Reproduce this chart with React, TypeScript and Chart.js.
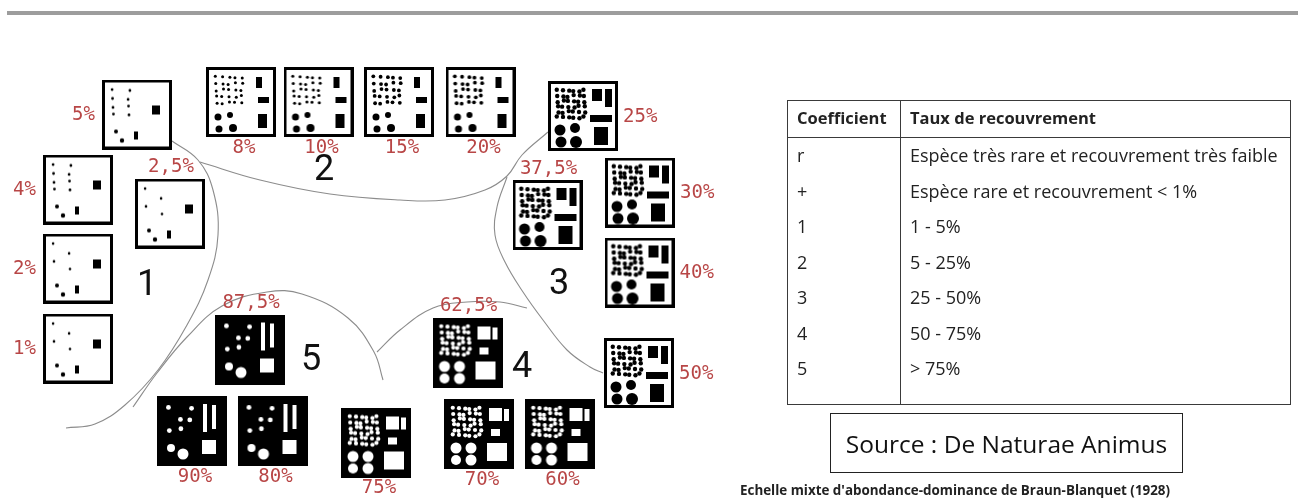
import React, { useEffect, useRef } from 'react';
import { Chart, registerables } from 'chart.js';

Chart.register(...registerables);

// ---- Data ----
const coverLabels = ['5%', '4%', '2,5%', '2%', '1%', '8%', '10%', '15%', '20%', '25%', '37,5%', '30%', '40%', '50%', '87,5%', '90%', '80%', '75%', '62,5%', '70%', '60%'];
const coverValues = [5, 4, 2.5, 2, 1, 8, 10, 15, 20, 25, 37.5, 30, 40, 50, 87.5, 90, 80, 75, 62.5, 70, 60];
const tileX = [137, 78, 170, 78, 78, 241, 318.5, 399, 480.5, 583, 547.5, 640, 639.5, 639, 250, 192, 272.5, 376, 467.5, 479, 559.5];
const tileY = [114.5, 189.5, 213.5, 268.5, 348.5, 102, 102, 102, 102, 116, 215, 192.5, 272.5, 373, 349.5, 431, 431, 442.5, 352.5, 434, 434];
const labelSide = ['left', 'left', 'top', 'left', 'left', 'bottom', 'bottom', 'bottom', 'bottom', 'right', 'top', 'right', 'right', 'right', 'top', 'bottom', 'bottom', 'bottom', 'top', 'bottom', 'bottom'];

const groupLabels = ['1', '2', '3', '4', '5'];
const groupX = [147, 324, 559, 522, 311];
const groupY = [285, 170, 284, 367, 360];

const curveA = [[172, 141], [198, 160], [213, 190], [218, 235], [208, 280], [187, 325], [158, 370], [125, 405], [95, 424], [66, 428]];
const curveB = [[200, 162], [260, 180], [330, 194], [400, 200], [445, 200], [485, 190], [507, 176], [522, 155], [548, 132]];
const curveC = [[507, 177], [497, 207], [495, 235], [505, 262], [523, 292], [543, 320], [567, 350], [590, 367], [603, 373]];
const curveD = [[133, 407], [157, 373], [187, 337], [222, 306], [267, 292], [302, 294], [348, 318], [374, 352], [383, 380]];
const curveE = [[377, 352], [400, 330], [433, 308], [467, 302], [500, 302], [527, 308]];

const tableHeader = ['Coefficient', 'Taux de recouvrement'];
const tableCoefficients = ['r', '+', '1', '2', '3', '4', '5'];
const tableRanges = [
  'Espèce très rare et recouvrement très faible',
  'Espèce rare et recouvrement < 1%',
  '1 - 5%',
  '5 - 25%',
  '25 - 50%',
  '50 - 75%',
  '> 75%',
];
const sourceText = 'Source : De Naturae Animus';
const captionText = "Echelle mixte d'abondance-dominance de Braun-Blanquet (1928)";

// ---- Tile texture (pattern representing the coverage) ----
function makeTile(pct: number): HTMLCanvasElement {
  const s = 70;
  const c = document.createElement('canvas');
  c.width = s;
  c.height = s;
  const g = c.getContext('2d') as CanvasRenderingContext2D;
  const dark = pct > 55;
  g.fillStyle = dark ? '#000' : '#fff';
  g.fillRect(0, 0, s, s);
  g.fillStyle = dark ? '#fff' : '#000';
  const dot = (x: number, y: number, r: number) => {
    g.beginPath();
    g.arc(x, y, r, 0, Math.PI * 2);
    g.fill();
  };
  const jit = (i: number, j: number) => (((i * 7 + j * 11) % 5) - 2) * 0.45;

  // fine dots, upper-left
  let n = 4;
  let r = 1.3;
  let keep = (i: number, j: number) => true;
  if (pct <= 2.5) { n = 4; r = 1.3; keep = (i, j) => (i + 2 * j) % 4 === 0; }
  else if (pct <= 5) { n = 4; r = 1.4; keep = (i, j) => (i + 2 * j) % 2 === 0; }
  else if (pct <= 20) { n = 5; r = pct >= 15 ? 1.9 : 1.5; }
  else if (pct <= 50) { n = 6; r = 2.2; }
  else if (pct <= 75) { n = 6; r = 2.1; }
  else { n = 3; r = 2.4; keep = (i, j) => (i + j) % 3 !== 1; }
  const area = 32;
  for (let i = 0; i < n; i++) {
    for (let j = 0; j < n; j++) {
      if (!keep(i, j)) continue;
      dot(7 + ((i + 0.5) * area) / n + jit(i, j), 7 + ((j + 0.5) * area) / n + jit(j, i), r);
    }
  }

  // larger round dots, lower-left
  let circles: number[][] = [];
  if (pct <= 5) circles = [[14, 52, 2], [20, 61, 2.2]];
  else if (pct <= 20) circles = [[12, 50, 3.5], [24, 48, 3], [13, 62, 3.5], [27, 61, 4]];
  else if (pct <= 50) circles = [[12, 49, 5.5], [27, 47, 5], [13, 61, 5.5], [28, 61, 6]];
  else if (pct <= 75) circles = [[12, 49, 5.5], [27, 49, 5.5], [12, 61, 5], [27, 61, 5.5]];
  else circles = [[14, 52, 4], [26, 58, 5.5]];
  circles.forEach(([x, y, rr]) => dot(x, y, rr));

  // angular blobs, right side
  let rects: number[][] = [];
  if (pct <= 5) rects = [[50, 26, 8, 9], [32, 52, 4, 8]];
  else if (pct <= 20) rects = [[50, 10, 6, 11], [52, 30, 11, 6], [52, 47, 9, 14]];
  else if (pct <= 50) rects = [[44, 8, 10, 12], [57, 8, 7, 18], [42, 34, 22, 7], [46, 46, 14, 18]];
  else if (pct <= 75) rects = [[45, 9, 13, 13], [60, 10, 5, 12], [47, 30, 9, 7], [43, 44, 20, 18]];
  else rects = [[46, 8, 4, 28], [55, 9, 4, 24], [45, 44, 14, 14]];
  rects.forEach(([x, y, w, h]) => g.fillRect(x, y, w, h));

  g.strokeStyle = '#000';
  g.lineWidth = 3;
  g.strokeRect(1.5, 1.5, s - 3, s - 3);
  return c;
}

const toPts = (arr: number[][]) => arr.map(([x, y]) => ({ x, y }));

const textPlugin = {
  id: 'diagramText',
  afterDatasetsDraw(chart: any) {
    const ctx = chart.ctx as CanvasRenderingContext2D;
    const meta = chart.getDatasetMeta(0);
    const half = 35;
    ctx.save();
    ctx.font = '19px "DejaVu Sans Mono"';
    ctx.fillStyle = '#b84646';
    ctx.textBaseline = 'middle';
    meta.data.forEach((pt: any, i: number) => {
      const side = labelSide[i];
      const t = coverLabels[i];
      if (side === 'left') {
        ctx.textAlign = 'right';
        ctx.fillText(t, pt.x - half - 7, pt.y + 1);
      } else if (side === 'right') {
        ctx.textAlign = 'left';
        ctx.fillText(t, pt.x + half + 5, pt.y + 1);
      } else if (side === 'top') {
        ctx.textAlign = 'center';
        ctx.fillText(t, pt.x + 1, pt.y - half - 11);
      } else {
        ctx.textAlign = 'center';
        ctx.fillText(t, pt.x + 3, pt.y + half + 11);
      }
    });
    const xs = chart.scales.x;
    const ys = chart.scales.y;
    ctx.font = '36px Roboto';
    ctx.fillStyle = '#111';
    ctx.textAlign = 'center';
    groupLabels.forEach((t, i) => {
      ctx.fillText(t, xs.getPixelForValue(groupX[i]), ys.getPixelForValue(groupY[i]) + 1);
    });
    ctx.restore();
  },
};

export default function App() {
  const ref = useRef<HTMLCanvasElement>(null);

  useEffect(() => {
    document.body.style.margin = '0';
    document.body.style.overflow = 'hidden';
    const tiles = coverValues.map((v) => makeTile(v));
    const curveStyle = {
      showLine: true,
      tension: 0.4,
      borderColor: '#8c8c8c',
      borderWidth: 1.1,
      pointRadius: 0,
      fill: false,
    };
    const chart = new Chart(ref.current as HTMLCanvasElement, {
      type: 'scatter',
      data: {
        datasets: [
          {
            label: 'tiles',
            data: tileX.map((x, i) => ({ x, y: tileY[i] })),
            pointStyle: (c: any) => tiles[c.dataIndex],
            pointRadius: 35,
          } as any,
          { label: 'A', data: toPts(curveA), ...curveStyle } as any,
          { label: 'B', data: toPts(curveB), ...curveStyle } as any,
          { label: 'C', data: toPts(curveC), ...curveStyle } as any,
          { label: 'D', data: toPts(curveD), ...curveStyle } as any,
          { label: 'E', data: toPts(curveE), ...curveStyle } as any,
        ],
      },
      options: {
        animation: false,
        responsive: false,
        maintainAspectRatio: false,
        events: [],
        layout: { padding: 0, autoPadding: false },
        plugins: { legend: { display: false }, tooltip: { enabled: false } },
        scales: {
          x: { type: 'linear', min: 0, max: 1298, display: false },
          y: { type: 'linear', min: 0, max: 504, reverse: true, display: false },
        },
      },
      plugins: [textPlugin],
    });
    return () => chart.destroy();
  }, []);

  const line = '1.5px solid #3a3a3a';
  const rowH = 35.5;
  return (
    <div style={{ position: 'relative', width: 1298, height: 504, overflow: 'hidden', background: '#fff', fontFamily: '"Open Sans", sans-serif', color: '#222' }}>
      <canvas ref={ref} width={1298} height={504} style={{ position: 'absolute', left: 0, top: 0, display: 'block' }} />
      <div style={{ position: 'absolute', left: 7, top: 11, width: 1291, height: 4, background: '#9d9d9d' }} />
      <div style={{ position: 'absolute', left: 787, top: 100, width: 504, height: 305, border: line, boxSizing: 'border-box' }} />
      <div style={{ position: 'absolute', left: 787, top: 137, width: 504, height: 0, borderTop: line }} />
      <div style={{ position: 'absolute', left: 900, top: 100, width: 0, height: 305, borderLeft: line }} />
      <div style={{ position: 'absolute', left: 797, top: 106, height: 24, lineHeight: '24px', fontWeight: 700, fontSize: 16.5, whiteSpace: 'nowrap' }}>{tableHeader[0]}</div>
      <div style={{ position: 'absolute', left: 910, top: 106, height: 24, lineHeight: '24px', fontWeight: 700, fontSize: 16.5, whiteSpace: 'nowrap' }}>{tableHeader[1]}</div>
      {tableCoefficients.map((c, i) => (
        <React.Fragment key={i}>
          <div style={{ position: 'absolute', left: 797, top: 155 + i * rowH - 12, height: 24, lineHeight: '24px', fontSize: 18, whiteSpace: 'nowrap' }}>{c}</div>
          <div style={{ position: 'absolute', left: 910, top: 155 + i * rowH - 12, height: 24, lineHeight: '24px', fontSize: 18, whiteSpace: 'nowrap' }}>{tableRanges[i]}</div>
        </React.Fragment>
      ))}
      <div style={{ position: 'absolute', left: 830, top: 413, width: 353, height: 60, border: '1.5px solid #222', boxSizing: 'border-box', display: 'flex', alignItems: 'center', justifyContent: 'center', fontSize: 24.5, color: '#111', whiteSpace: 'nowrap' }}>{sourceText}</div>
      <div style={{ position: 'absolute', left: 740, top: 482, height: 17, lineHeight: '17px', fontSize: 13.4, fontWeight: 700, whiteSpace: 'nowrap' }}>{captionText}</div>
    </div>
  );
}
